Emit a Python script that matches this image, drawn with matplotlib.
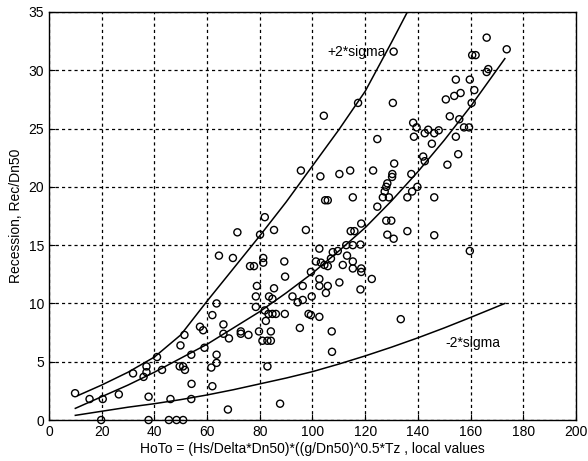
import matplotlib
matplotlib.use("Agg")
import matplotlib.pyplot as plt

plt.rcParams['font.family'] = ['Liberation Sans', 'DejaVu Sans']

# scatter data (HoTo, Rec/Dn50)
pts_x = [9.9, 15.4, 20.4, 26.5, 31.9, 35.9, 37.0, 37.0, 37.8, 41.0, 42.9, 46.1, 49.9, 51.4, 49.6, 50.9,
         51.6, 54.0, 54.1, 54.0, 57.3, 58.5, 59.0, 62.0, 61.6, 62.0, 63.6, 63.6, 63.6, 66.2, 66.2, 68.3,
         67.9, 19.8, 37.8, 45.5, 48.4, 50.9,
         71.5, 64.5, 69.8,
         72.8, 72.8, 75.7, 79.7, 84.2, 81.0, 82.9, 84.2, 82.3, 95.2,
         78.5, 83.5, 84.8, 78.5, 81.9, 83.3, 84.8, 86.1, 89.5, 98.5, 99.4, 102.6, 107.3, 133.5,
         92.4, 94.4, 96.3, 99.7, 105.1, 107.4, 82.9, 87.7,
         78.9, 85.4, 96.3, 89.6, 89.3, 76.3, 77.8, 81.3, 81.3,
         95.6, 103.0, 110.2, 114.3, 123.0, 131.0, 130.3, 130.2, 128.4, 128.0, 127.4, 126.7, 129.0,
         124.6, 137.5, 142.0, 142.6, 139.8, 137.8, 136.0, 115.3, 104.8, 105.8, 81.9, 80.1, 85.4,
         97.5, 114.5, 115.9, 118.5, 128.0, 129.9, 128.4, 130.8, 136.0,
         99.4, 101.3, 103.2, 104.5, 105.8, 102.6, 107.7, 109.6, 112.8, 115.3, 118.2, 113.1, 107.0,
         111.5, 115.3, 115.3, 118.5, 118.5, 102.6, 102.6, 105.8, 110.2, 122.5, 118.2,
         130.8, 117.3, 130.5, 104.3, 138.2, 139.5, 143.9, 142.6, 138.5, 124.6, 145.3,
         166.1, 173.7, 160.6, 161.9, 166.7, 166.1, 154.4, 159.7, 161.4, 156.2, 153.8, 150.6, 160.4,
         152.1, 155.7, 157.5, 159.4, 154.4, 146.2, 147.9,
         155.3, 151.2, 146.2, 146.2, 159.7]
pts_y = [2.3, 1.8, 1.8, 2.2, 4.0, 3.7, 4.6, 4.1, 2.0, 5.4, 4.3, 1.8, 6.4, 7.3, 4.6, 4.6,
         4.3, 5.6, 3.1, 1.8, 8.0, 7.7, 6.2, 9.0, 4.5, 2.9, 10.0, 5.6, 4.9, 8.2, 7.4, 7.0,
         0.9, 0.0, 0.0, 0.0, 0.0, 0.0,
         16.1, 14.1, 13.9,
         7.6, 7.4, 7.3, 7.6, 7.6, 6.8, 6.8, 6.8, 8.5, 7.9,
         10.6, 10.6, 10.4, 9.7, 9.4, 9.1, 9.1, 9.1, 9.1, 9.1, 9.0, 8.85, 7.6, 8.65,
         10.6, 10.1, 10.3, 10.6, 10.9, 5.85, 4.6, 1.4,
         11.5, 11.3, 11.5, 12.3, 13.6, 13.2, 13.2, 13.9, 13.5,
         21.4, 20.9, 21.1, 21.4, 21.4, 22.0, 21.1, 20.85, 20.3, 20.0, 19.6, 19.1, 19.1,
         18.3, 21.1, 22.6, 22.2, 20.0, 19.6, 19.1, 19.1, 18.85, 18.85, 17.4, 15.9, 16.3,
         16.3, 16.2, 16.2, 16.85, 17.1, 17.1, 15.9, 15.55, 16.2,
         12.7, 13.6, 13.5, 13.3, 13.2, 14.7, 14.4, 14.5, 15.0, 15.0, 15.05, 14.1, 13.85,
         13.3, 13.6, 13.0, 13.0, 12.7, 12.1, 11.5, 11.5, 11.8, 12.1, 11.2,
         31.6, 27.2, 27.2, 26.1, 25.5, 25.1, 24.9, 24.6, 24.3, 24.1, 23.7,
         32.8, 31.8, 31.3, 31.3, 30.1, 29.85, 29.2, 29.2, 28.3, 28.05, 27.8, 27.5, 27.2,
         26.05, 25.8, 25.1, 25.1, 24.3, 24.6, 24.85,
         22.8, 21.9, 19.1, 15.85, 14.5]

# fitted mean curve and +/- 2 sigma curves
mid_x = [10, 20, 30, 40, 50, 60, 70, 80, 90, 100, 110, 120, 130, 140, 150, 160, 173]
mid_y = [1.0, 2.0, 3.0, 4.1, 5.3, 6.5, 7.9, 9.3, 10.9, 12.6, 14.5, 16.5, 18.8, 21.3, 24.0, 26.9, 31.0]
up_x = [11, 20, 30, 40, 50, 60, 70, 80, 90, 100, 110, 120, 130, 136]
up_y = [2.1, 3.0, 4.1, 5.4, 7.3, 10.2, 13.0, 15.8, 18.7, 21.8, 24.9, 28.2, 32.4, 35.0]
lo_x = [10, 20, 30, 40, 50, 60, 70, 80, 90, 100, 110, 120, 130, 140, 150, 160, 173]
lo_y = [0.4, 0.75, 1.1, 1.4, 1.75, 2.15, 2.6, 3.1, 3.6, 4.15, 4.8, 5.5, 6.25, 7.05, 7.9, 8.8, 10.0]

x_ticks = [0, 20, 40, 60, 80, 100, 120, 140, 160, 180, 200]
y_ticks = [0, 5, 10, 15, 20, 25, 30, 35]

fig = plt.figure(figsize=(5.88, 4.61), dpi=100)
ax = fig.add_axes([0.0833, 0.0889, 0.8963, 0.8851])

ax.scatter(pts_x, pts_y, s=26, facecolors='none', edgecolors='black', linewidths=1.0, zorder=3, clip_on=False)
ax.plot(mid_x, mid_y, color='black', lw=1.1)
ax.plot(up_x, up_y, color='black', lw=1.1)
ax.plot(lo_x, lo_y, color='black', lw=1.1)

ax.text(105.8, 31.6, '+2*sigma', fontsize=10, va='center', ha='left')
ax.text(150.5, 6.6, '-2*sigma', fontsize=10, va='center', ha='left')

ax.set_xlim(0, 200)
ax.set_ylim(0, 35)
ax.set_xticks(x_ticks)
ax.set_yticks(y_ticks)
ax.tick_params(direction='in', length=4, labelsize=10, color='black')
ax.grid(True, color='black', linestyle=(0, (2.5, 2.5)), linewidth=0.9)
for sp in ax.spines.values():
    sp.set_linewidth(1.0)

ax.set_xlabel('HoTo = (Hs/Delta*Dn50)*((g/Dn50)^0.5*Tz , local values', fontsize=10, labelpad=2)
ax.set_ylabel('Recession, Rec/Dn50', fontsize=10, labelpad=4)

fig.savefig('out.png', dpi=100)
